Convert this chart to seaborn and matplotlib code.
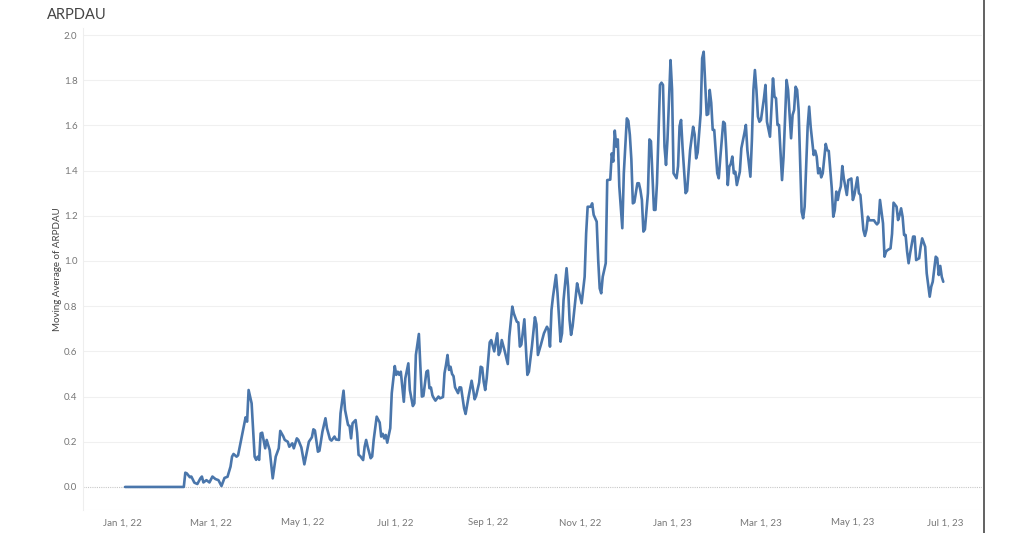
import numpy as np
import pandas as pd
import matplotlib
matplotlib.use("Agg")
import matplotlib.pyplot as plt
import matplotlib.dates as mdates
from matplotlib.lines import Line2D
import seaborn as sns

# ---- data: days since 2022-01-01 and moving average of ARPDAU ----
day_offsets = [
    2, 40, 41, 42, 43, 45, 46, 48, 50, 52, 53, 54, 56, 58, 60, 62, 64, 66, 68, 70,
    72, 73, 74, 76, 77, 79, 82, 83, 84, 86, 88, 89, 90, 91, 92, 93, 95, 96, 98, 100,
    102, 104, 105, 107, 108, 110, 111, 113, 114, 116, 117, 119, 121, 124, 126, 127, 128, 130, 131, 133,
    135, 136, 138, 139, 141, 142, 144, 145, 147, 148, 150, 151, 152, 153, 155, 156, 157, 158, 160, 161,
    162, 163, 165, 166, 167, 169, 171, 172, 173, 174, 175, 176, 178, 179, 181, 182, 183, 184, 185, 187,
    188, 190, 191, 193, 194, 195, 197, 198, 199, 200, 202, 203, 204, 205, 206, 207, 208, 210, 211, 213,
    214, 215, 216, 217, 218, 219, 220, 221, 223, 224, 225, 227, 228, 230, 232, 233, 234, 235, 237, 238,
    239, 240, 241, 242, 244, 245, 247, 249, 250, 251, 252, 254, 256, 257, 259, 260, 262, 263, 264, 265,
    267, 269, 270, 272, 274, 275, 276, 278, 280, 282, 283, 284, 285, 286, 288, 289, 291, 292, 293, 295,
    296, 297, 298, 299, 302, 303, 305, 307, 308, 309, 311, 312, 313, 315, 316, 317, 318, 319, 321, 322,
    324, 325, 326, 327, 328, 329, 330, 332, 333, 335, 336, 337, 338, 339, 340, 342, 343, 344, 345, 346,
    347, 349, 350, 351, 353, 354, 355, 357, 358, 359, 360, 361, 362, 364, 365, 366, 368, 369, 370, 371,
    372, 374, 375, 377, 379, 380, 381, 382, 384, 385, 386, 387, 388, 389, 390, 391, 392, 393, 395, 396,
    397, 399, 400, 401, 402, 403, 404, 405, 406, 407, 408, 410, 411, 413, 414, 415, 417, 418, 419, 420,
    421, 422, 423, 424, 426, 427, 428, 430, 432, 433, 434, 435, 436, 438, 439, 441, 442, 444, 445, 446,
    447, 448, 449, 451, 452, 453, 454, 455, 456, 457, 459, 460, 461, 462, 463, 464, 465, 467, 468, 469,
    471, 472, 473, 474, 475, 476, 477, 478, 479, 481, 482, 484, 485, 486, 487, 488, 489, 490, 492, 493,
    494, 495, 496, 499, 500, 501, 502, 503, 505, 506, 507, 508, 510, 511, 512, 514, 515, 516, 517, 518,
    519, 520, 521, 522, 523, 525, 526, 527, 529, 530, 531, 533, 534, 536, 537, 538, 540, 541, 542, 543,
    544, 545,
]
arpdau = [
    0.0, 0.0, 0.0, 0.063, 0.06, 0.043, 0.046, 0.019, 0.013, 0.038, 0.046, 0.02, 0.03, 0.02, 0.046, 0.035, 0.03, 0.004, 0.04, 0.045,
    0.09, 0.134, 0.146, 0.134, 0.14, 0.208, 0.308, 0.289, 0.429, 0.37, 0.134, 0.12, 0.134, 0.12, 0.237, 0.24, 0.171, 0.208, 0.163, 0.038,
    0.134, 0.171, 0.248, 0.224, 0.208, 0.2, 0.178, 0.193, 0.171, 0.215, 0.208, 0.175, 0.1, 0.2, 0.22, 0.255, 0.25, 0.156, 0.16, 0.245,
    0.304, 0.26, 0.211, 0.205, 0.223, 0.21, 0.208, 0.326, 0.426, 0.341, 0.274, 0.27, 0.215, 0.282, 0.296, 0.24, 0.142, 0.137, 0.119, 0.178,
    0.208, 0.178, 0.127, 0.135, 0.208, 0.311, 0.285, 0.223, 0.235, 0.215, 0.23, 0.196, 0.26, 0.415, 0.535, 0.496, 0.51, 0.496, 0.51, 0.377,
    0.481, 0.547, 0.429, 0.358, 0.37, 0.584, 0.677, 0.532, 0.4, 0.403, 0.51, 0.515, 0.437, 0.44, 0.405, 0.392, 0.382, 0.4, 0.392, 0.398,
    0.503, 0.54, 0.584, 0.518, 0.532, 0.5, 0.49, 0.441, 0.415, 0.441, 0.44, 0.348, 0.323, 0.4, 0.47, 0.432, 0.388, 0.403, 0.462, 0.532,
    0.528, 0.466, 0.429, 0.48, 0.64, 0.65, 0.6, 0.68, 0.584, 0.6, 0.65, 0.6, 0.544, 0.665, 0.798, 0.768, 0.731, 0.728, 0.621, 0.63,
    0.742, 0.496, 0.51, 0.621, 0.751, 0.72, 0.584, 0.63, 0.68, 0.709, 0.695, 0.621, 0.783, 0.842, 0.938, 0.857, 0.643, 0.68, 0.827, 0.968,
    0.886, 0.739, 0.673, 0.71, 0.901, 0.87, 0.813, 0.93, 1.122, 1.24, 1.24, 1.255, 1.204, 1.174, 1.004, 0.879, 0.857, 0.93, 0.99, 1.358,
    1.36, 1.476, 1.44, 1.577, 1.506, 1.538, 1.33, 1.145, 1.388, 1.631, 1.62, 1.558, 1.45, 1.255, 1.26, 1.344, 1.344, 1.314, 1.27, 1.13,
    1.14, 1.3, 1.538, 1.53, 1.226, 1.226, 1.344, 1.779, 1.789, 1.779, 1.506, 1.425, 1.54, 1.889, 1.76, 1.388, 1.366, 1.42, 1.597, 1.624,
    1.5, 1.3, 1.31, 1.491, 1.594, 1.56, 1.454, 1.48, 1.653, 1.897, 1.926, 1.79, 1.646, 1.65, 1.757, 1.7, 1.58, 1.58, 1.388, 1.366,
    1.454, 1.616, 1.609, 1.49, 1.336, 1.417, 1.43, 1.462, 1.388, 1.395, 1.336, 1.395, 1.499, 1.565, 1.602, 1.49, 1.373, 1.535, 1.757, 1.845,
    1.757, 1.639, 1.616, 1.624, 1.72, 1.779, 1.616, 1.55, 1.808, 1.727, 1.72, 1.602, 1.602, 1.358, 1.46, 1.801, 1.757, 1.543, 1.646, 1.668,
    1.771, 1.757, 1.668, 1.218, 1.189, 1.24, 1.417, 1.594, 1.683, 1.594, 1.469, 1.488, 1.462, 1.388, 1.41, 1.37, 1.388, 1.518, 1.49, 1.487,
    1.322, 1.196, 1.225, 1.307, 1.27, 1.307, 1.33, 1.42, 1.365, 1.292, 1.358, 1.365, 1.27, 1.292, 1.33, 1.37, 1.3, 1.292, 1.137, 1.111,
    1.137, 1.196, 1.18, 1.18, 1.17, 1.162, 1.17, 1.27, 1.167, 1.019, 1.041, 1.048, 1.056, 1.12, 1.258, 1.24, 1.181, 1.203, 1.233, 1.196,
    1.115, 1.115, 1.041, 0.99, 1.034, 1.108, 1.108, 1.004, 1.012, 1.063, 1.1, 1.063, 0.946, 0.842, 0.886, 0.908, 1.019, 1.012, 0.938, 0.978,
    0.93, 0.908,
]
y_ticks = [0.0, 0.2, 0.4, 0.6, 0.8, 1.0, 1.2, 1.4, 1.6, 1.8, 2.0]
x_tick_dates = ["2022-01-01", "2022-03-01", "2022-05-01", "2022-07-01", "2022-09-01", "2022-11-01",
                "2023-01-01", "2023-03-01", "2023-05-01", "2023-07-01"]
x_tick_labels = ["Jan 1, 22", "Mar 1, 22", "May 1, 22", "Jul 1, 22", "Sep 1, 22", "Nov 1, 22",
                 "Jan 1, 23", "Mar 1, 23", "May 1, 23", "Jul 1, 23"]
title = "ARPDAU"
y_label = "Moving Average of ARPDAU"

start = pd.Timestamp("2022-01-01")
df = pd.DataFrame({
    "date": start + pd.to_timedelta(day_offsets, unit="D"),
    "value": arpdau,
})

sns.set_theme(style="white")
plt.rcParams["font.family"] = ["Lato", "DejaVu Sans"]

fig = plt.figure(figsize=(10.24, 5.33), dpi=100)
W, H = 1024, 533
ax = fig.add_axes([83 / W, 23 / H, (982 - 83) / W, (510 - 28) / H])

sns.lineplot(data=df, x="date", y="value", ax=ax, color="#4a76ab", linewidth=1.9)

ax.set_xlim(start - pd.Timedelta(days=25.9), start + pd.Timedelta(days=570.7))
ax.set_ylim(-0.102, 2.031)

ax.set_yticks(y_ticks)
ax.set_yticklabels([f"{v:.1f}" for v in y_ticks])
ax.set_xticks(pd.to_datetime(x_tick_dates))
ax.set_xticklabels(x_tick_labels)

for v in y_ticks:
    if v == 0:
        ax.axhline(v, color="#c8c8c8", lw=0.8, ls=(0, (1, 1)), zorder=0)
    else:
        ax.axhline(v, color="#f0f0f0", lw=0.8, zorder=0)

ax.tick_params(axis="both", length=0, labelsize=7, colors="#777777", pad=4)
ax.tick_params(axis="x", pad=6)
for s in ["top", "right", "bottom"]:
    ax.spines[s].set_visible(False)
ax.spines["left"].set_color("#eeeeee")
ax.spines["left"].set_linewidth(0.8)
ax.axhline(-0.102, color="#f0f0f0", lw=0.8, zorder=0)

ax.set_xlabel("")
ax.set_ylabel(y_label, fontsize=7, color="#444444", labelpad=8)
ax.yaxis.set_label_coords(-21 / (982 - 83), 0.5)

fig.text(47 / W, 1 - 15 / H, title, fontsize=10.5, color="#444444", va="center", ha="left")

# worksheet border on the right
fig.add_artist(Line2D([983.5 / W, 983.5 / W], [0, 1], color="#555555", lw=1.3, transform=fig.transFigure))

fig.savefig("out.png", dpi=100, facecolor="white")
